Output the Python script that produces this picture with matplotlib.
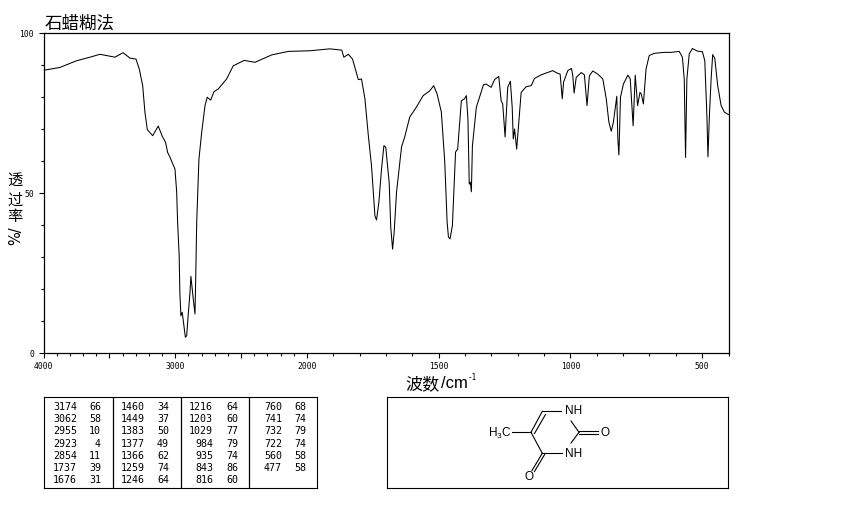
"""IR spectrum of thymine (paraffin mull) with peak table and structure box."""

import matplotlib

matplotlib.use("Agg")
import matplotlib.pyplot as plt
import numpy as np

CJK = ["Noto Sans CJK SC", "DejaVu Sans"]
MONO = "DejaVu Sans Mono"

WAVENUMBER = [
    4000, 3875, 3748, 3647, 3571, 3457, 3396, 3343, 3298, 3273, 3247, 3230, 3212, 3171,
    3129, 3098, 3073, 3058, 3040, 3002, 2989, 2982, 2970, 2965, 2957, 2947, 2934, 2923,
    2913, 2901, 2888, 2881, 2863, 2850, 2845, 2837, 2825, 2820, 2799, 2774, 2757, 2731,
    2706, 2673, 2610, 2560, 2476, 2395, 2268, 2142, 1989, 1913, 1868, 1860, 1843, 1827,
    1805, 1793, 1780, 1767, 1755, 1742, 1736, 1727, 1717, 1708, 1701, 1688, 1682, 1675,
    1669, 1660, 1641, 1629, 1610, 1584, 1559, 1534, 1519, 1506, 1490, 1477, 1468, 1463,
    1457, 1448, 1436, 1428, 1414, 1402, 1395, 1389, 1384, 1380, 1376, 1372, 1357, 1345,
    1330, 1320, 1301, 1288, 1272, 1263, 1257, 1248, 1238, 1228, 1221, 1217, 1212, 1204,
    1187, 1168, 1149, 1136, 1111, 1067, 1052, 1039, 1031, 1026, 1010, 996, 991, 986,
    978, 959, 947, 937, 928, 915, 896, 877, 864, 854, 845, 837, 824, 820,
    816, 810, 799, 782, 773, 762, 754, 745, 736, 731, 723, 713, 701, 682,
    644, 619, 587, 575, 568, 563, 558, 549, 537, 518, 499, 490, 482, 478,
    473, 466, 460, 452, 441, 428, 416, 405, 400,
]
TRANSMITTANCE = [
    88.2, 89.1, 91.2, 92.3, 93.2, 92.3, 93.7, 92.0, 91.7, 88.6, 83.4, 75.1, 69.7, 67.8,
    70.8, 67.6, 65.7, 62.6, 61.1, 57.4, 50.2, 40.8, 30.4, 19.0, 11.6, 12.7, 8.5, 4.9,
    5.4, 12.2, 18.9, 23.9, 16.8, 12.2, 22.0, 40.8, 54.3, 60.5, 68.9, 77.2, 79.8, 78.9,
    81.5, 82.4, 85.5, 89.6, 91.3, 90.7, 93.0, 94.1, 94.3, 94.9, 94.5, 92.3, 93.2, 91.7,
    85.3, 85.5, 79.3, 67.8, 58.4, 42.8, 41.5, 47.1, 57.4, 64.7, 64.2, 53.3, 39.3, 32.4,
    37.8, 50.2, 64.3, 67.4, 73.6, 76.8, 80.3, 81.8, 83.4, 80.8, 75.2, 59.6, 40.8, 36.2,
    35.6, 39.7, 62.7, 63.6, 78.7, 79.3, 80.3, 73.0, 52.7, 53.3, 50.3, 64.7, 76.7, 79.8,
    83.7, 83.9, 82.9, 85.3, 86.3, 78.7, 77.7, 67.4, 82.9, 84.8, 76.7, 66.8, 69.9, 63.6,
    81.3, 83.1, 83.4, 85.7, 86.8, 88.1, 87.4, 87.0, 79.3, 84.5, 88.1, 88.8, 86.5, 81.1,
    86.0, 87.5, 86.8, 77.2, 86.5, 88.0, 87.0, 85.5, 79.3, 72.0, 69.2, 72.0, 80.1, 66.8,
    61.8, 79.8, 83.9, 86.7, 85.5, 70.9, 86.7, 77.2, 81.3, 80.8, 77.7, 88.6, 92.8, 93.5,
    93.8, 93.8, 94.1, 92.3, 85.5, 61.0, 85.5, 93.3, 95.0, 94.2, 94.0, 91.2, 74.0, 61.2,
    73.0, 85.5, 93.1, 91.9, 83.4, 77.2, 75.2, 74.6, 74.4,
]

PEAK_COLUMNS = [
    [(3174, 66), (3062, 58), (2955, 10), (2923, 4), (2854, 11), (1737, 39), (1676, 31)],
    [(1460, 34), (1449, 37), (1383, 50), (1377, 49), (1366, 62), (1259, 74), (1246, 64)],
    [(1216, 64), (1203, 60), (1029, 77), (984, 79), (935, 74), (843, 86), (816, 60)],
    [(760, 68), (741, 74), (732, 79), (722, 74), (560, 58), (477, 58)],
]

X_LABELLED = [4000, 3000, 2000, 1500, 1000, 500]
X_MAJOR = [4000, 3500, 3000, 2500, 2000, 1500, 1000, 500]
Y_LABELLED = [0, 50, 100]

W, H = 850, 510


def px_axes(fig, left, top, right, bottom, **kw):
    """Axes placed by image pixels (y measured from the top)."""
    return fig.add_axes(
        [left / W, 1 - bottom / H, (right - left) / W, (bottom - top) / H], **kw
    )


def forward(x):
    # the wavenumber axis is twice as wide per unit below 2000
    x = np.asarray(x, dtype=float)
    return np.where(x > 2000, 2000 + (x - 2000) / 2, x)


def inverse(x):
    x = np.asarray(x, dtype=float)
    return np.where(x > 2000, 2000 + (x - 2000) * 2, x)


def draw_spectrum(ax):
    ax.set_xscale("function", functions=(forward, inverse))
    ax.plot(WAVENUMBER, TRANSMITTANCE, color="black", lw=0.75)
    ax.set_xlim(4000, 400)
    ax.set_ylim(0, 100)

    ax.set_xticks(X_MAJOR)
    ax.set_xticklabels([str(v) if v in X_LABELLED else "" for v in X_MAJOR], fontfamily=MONO)
    minor = [v for v in range(400, 4000, 100) if v not in X_MAJOR]
    ax.set_xticks(minor, minor=True)
    ax.set_yticks(Y_LABELLED)
    ax.set_yticklabels([str(v) for v in Y_LABELLED], fontfamily=MONO)
    ax.set_yticks([v for v in range(0, 100, 10) if v not in Y_LABELLED], minor=True)

    ax.tick_params(axis="both", which="major", length=3.6, width=0.8, labelsize=5.8)
    ax.tick_params(axis="both", which="minor", length=2, width=0.8)
    ax.tick_params(axis="x", which="major", pad=2)
    ax.tick_params(axis="y", which="major", pad=3.2)
    for spine in ax.spines.values():
        spine.set_linewidth(0.9)


def draw_table(ax):
    ax.set_xlim(43.5, 317)
    ax.set_ylim(489, 398)
    ax.set_xticks([])
    ax.set_yticks([])
    for x in (112.5, 180.5, 249):
        ax.axvline(x, color="black", lw=0.9)
    ends = [(77, 101), (145, 169), (213, 238), (282, 306)]
    for col, (x_wn, x_t) in zip(PEAK_COLUMNS, ends):
        for i, (wn, t) in enumerate(col):
            y = 407 + i * 12.2
            ax.text(x_wn, y, str(wn), ha="right", va="center", fontsize=7.2, family=MONO)
            ax.text(x_t, y, str(t), ha="right", va="center", fontsize=7.2, family=MONO)


def draw_structure(ax):
    ax.set_xlim(386.7, 728.3)
    ax.set_ylim(489, 397.5)
    ax.set_xticks([])
    ax.set_yticks([])
    bonds = [
        ((542.3, 412.3), (561, 412.3)),
        ((542.3, 412.3), (531, 433.3)),
        ((545.5, 415.5), (534.5, 434.5)),
        ((512, 433.3), (531, 433.3)),
        ((531, 433.3), (542.3, 454.3)),
        ((542.3, 454.3), (562, 454.3)),
        ((571, 444), (579, 433.3)),
        ((571, 422), (579, 433.3)),
        ((579, 432), (598, 432)),
        ((579, 434.8), (598, 434.8)),
        ((542.3, 454.3), (532, 471.5)),
        ((544.6, 455.6), (534.4, 472.6)),
    ]
    for (x0, y0), (x1, y1) in bonds:
        ax.plot([x0, x1], [y0, y1], color="black", lw=0.8)
    style = dict(ha="center", va="center", fontsize=8.5, family="Liberation Sans")
    ax.text(573.5, 411.5, "NH", **style)
    ax.text(573.5, 454.3, "NH", **style)
    ax.text(605, 433.3, "O", **style)
    ax.text(529, 477.5, "O", **style)
    ax.text(500, 433.8, "H$_3$C", math_fontfamily="custom", **style)


def main():
    plt.rcParams["mathtext.rm"] = "Liberation Sans"
    fig = plt.figure(figsize=(W / 100, H / 100), dpi=100, facecolor="white")

    draw_spectrum(px_axes(fig, 43.5, 33.5, 728.5, 354))
    draw_table(px_axes(fig, 43.5, 398, 317, 489))
    draw_structure(px_axes(fig, 386.7, 397.5, 728.3, 489))

    fig.text(45 / W, 1 - 24 / H, "石蜡糊法", family=CJK, fontsize=12.6, va="center")
    fig.text(405 / W, 1 - 384 / H, "波数", family=CJK, fontsize=12.3, va="center")
    fig.text(441 / W, 1 - 384 / H, "/cm", family="Liberation Sans", fontsize=12, va="center")
    fig.text(468 / W, 1 - 378 / H, "-1", family=MONO, fontsize=5.5, va="center")
    for ch, y in zip("透过率", (180, 200, 217)):
        fig.text(15 / W, 1 - y / H, ch, family=CJK, fontsize=11, ha="center", va="center")
    fig.text(16 / W, 1 - 236 / H, "%/", family="DejaVu Sans", fontsize=10.5, rotation=90,
             ha="center", va="center")

    fig.savefig("out.png", dpi=100)


if __name__ == "__main__":
    main()
